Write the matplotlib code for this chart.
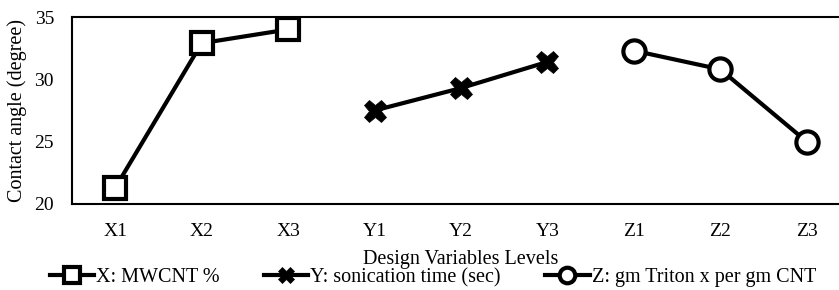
import numpy as np
import matplotlib.pyplot as plt

# category labels and series values
levels = ["X1", "X2", "X3", "Y1", "Y2", "Y3", "Z1", "Z2", "Z3"]
x_vals = [21.3, 32.9, 34.0]
y_vals = [27.5, 29.3, 31.4]
z_vals = [32.3, 30.8, 25.0]
names = ["X: MWCNT %", "Y: sonication time (sec)", "Z: gm Triton x per gm CNT"]

plt.rcParams['font.family'] = ['Liberation Serif', 'DejaVu Serif']
plt.rcParams['font.size'] = 14

fig = plt.figure(figsize=(8.39, 2.9), dpi=100)
ax = fig.add_axes([72/839, 1-204/290, 778/839, 187/290])

pos = np.arange(len(levels))
ax.plot(pos[0:3], x_vals, color='black', lw=3, marker='s', ms=16,
        mfc='white', mec='black', mew=3, label=names[0])
ax.plot(pos[3:6], y_vals, color='black', lw=3, marker='X', ms=16,
        mfc='black', mec='black', mew=0.5, label=names[1])
ax.plot(pos[6:9], z_vals, color='black', lw=3, marker='o', ms=16,
        mfc='white', mec='black', mew=3, label=names[2])

ax.set_xlim(-0.5, 8.5)
ax.set_ylim(20, 35)
ax.set_yticks([20, 25, 30, 35])
ax.set_xticks(pos)
ax.set_xticklabels(levels)
ax.tick_params(axis='x', length=0, pad=14)
ax.tick_params(axis='y', length=0, pad=13)
for s in ax.spines.values():
    s.set_linewidth(1.5)
ax.set_xlabel("Design Variables Levels", fontsize=14.5, labelpad=7)
ax.set_ylabel("Contact angle (degree)", fontsize=14.5, labelpad=5)

fig.legend(loc='center', bbox_to_anchor=(0.516, 0.042), ncol=3, frameon=False,
           fontsize=14.5, handlelength=2.2, columnspacing=2.2, handletextpad=0.1,
           markerscale=0.7)

fig.savefig("out.png", dpi=100)
